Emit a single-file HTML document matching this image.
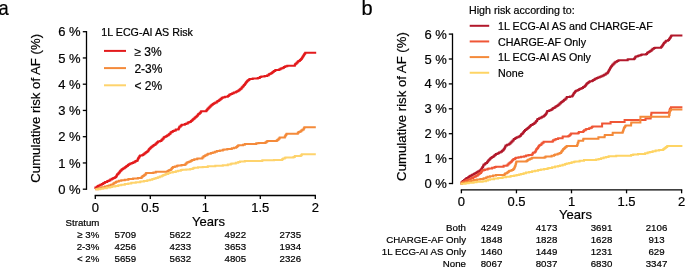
<!DOCTYPE html>
<html><head><meta charset="utf-8"><style>
html,body{margin:0;padding:0;background:#fff;overflow:hidden;}
svg{display:block;will-change:transform;}
text{font-family:"Liberation Sans", sans-serif;fill:#000;stroke:#000;stroke-width:0.2px;}
.pl{font-size:20px;fill:#000;}
.tk{font-size:13px;}
.yt{font-size:13.2px;}
.yr{font-size:13px;}
.lg{font-size:10.7px;}
.tb{font-size:9.7px;}
.lg2{font-size:12px;}
</style></head><body>
<svg width="685" height="268" viewBox="0 0 685 268">
<rect width="685" height="268" fill="#fff"/>
<text transform="translate(-1.5,14.5) scale(0.92,1)" class="pl">a</text>
<text x="361.4" y="14.7" class="pl">b</text>
<line x1="86.5" y1="31.05" x2="86.5" y2="189.85" stroke="#000" stroke-width="1.3"/>
<line x1="82.80" y1="189.20" x2="86.5" y2="189.20" stroke="#000" stroke-width="1.3"/>
<text x="80.6" y="193.75" text-anchor="end" class="tk">0 %</text>
<line x1="82.80" y1="162.95" x2="86.5" y2="162.95" stroke="#000" stroke-width="1.3"/>
<text x="80.6" y="167.50" text-anchor="end" class="tk">1 %</text>
<line x1="82.80" y1="136.70" x2="86.5" y2="136.70" stroke="#000" stroke-width="1.3"/>
<text x="80.6" y="141.25" text-anchor="end" class="tk">2 %</text>
<line x1="82.80" y1="110.45" x2="86.5" y2="110.45" stroke="#000" stroke-width="1.3"/>
<text x="80.6" y="115.00" text-anchor="end" class="tk">3 %</text>
<line x1="82.80" y1="84.20" x2="86.5" y2="84.20" stroke="#000" stroke-width="1.3"/>
<text x="80.6" y="88.75" text-anchor="end" class="tk">4 %</text>
<line x1="82.80" y1="57.95" x2="86.5" y2="57.95" stroke="#000" stroke-width="1.3"/>
<text x="80.6" y="62.50" text-anchor="end" class="tk">5 %</text>
<line x1="82.80" y1="31.70" x2="86.5" y2="31.70" stroke="#000" stroke-width="1.3"/>
<text x="80.6" y="36.25" text-anchor="end" class="tk">6 %</text>
<line x1="94.65" y1="195.5" x2="315.95" y2="195.5" stroke="#000" stroke-width="1.3"/>
<line x1="95.30" y1="195.5" x2="95.30" y2="199.00" stroke="#000" stroke-width="1.3"/>
<text x="95.30" y="211.8" text-anchor="middle" class="tk">0</text>
<line x1="150.30" y1="195.5" x2="150.30" y2="199.00" stroke="#000" stroke-width="1.3"/>
<text x="150.30" y="211.8" text-anchor="middle" class="tk">0.5</text>
<line x1="205.30" y1="195.5" x2="205.30" y2="199.00" stroke="#000" stroke-width="1.3"/>
<text x="205.30" y="211.8" text-anchor="middle" class="tk">1</text>
<line x1="260.30" y1="195.5" x2="260.30" y2="199.00" stroke="#000" stroke-width="1.3"/>
<text x="260.30" y="211.8" text-anchor="middle" class="tk">1.5</text>
<line x1="315.30" y1="195.5" x2="315.30" y2="199.00" stroke="#000" stroke-width="1.3"/>
<text x="315.30" y="211.8" text-anchor="middle" class="tk">2</text>
<text transform="translate(39.6,108.35) rotate(-90)" text-anchor="middle" class="yt">Cumulative risk of AF (%)</text>
<text x="208.5" y="226" text-anchor="middle" class="yr">Years</text>
<text x="101.3" y="35.7" class="lg">1L ECG-AI AS Risk</text>
<line x1="104" y1="50.90" x2="126" y2="50.90" stroke="#e31a1c" stroke-width="2"/>
<text x="134.4" y="55.50" class="lg2">≥ 3%</text>
<line x1="104" y1="68.10" x2="126" y2="68.10" stroke="#f48a3a" stroke-width="2"/>
<text x="134.4" y="72.70" class="lg2">2-3%</text>
<line x1="104" y1="85.30" x2="126" y2="85.30" stroke="#fed36c" stroke-width="2"/>
<text x="134.4" y="89.90" class="lg2">&lt; 2%</text>
<text x="65.5" y="226.4" class="tb">Stratum</text>
<text x="99.3" y="237.8" text-anchor="end" class="tb">≥ 3%</text>
<text x="125.3" y="237.8" text-anchor="middle" class="tb">5709</text>
<text x="180.3" y="237.8" text-anchor="middle" class="tb">5622</text>
<text x="235.3" y="237.8" text-anchor="middle" class="tb">4922</text>
<text x="290.3" y="237.8" text-anchor="middle" class="tb">2735</text>
<text x="99.3" y="249.7" text-anchor="end" class="tb">2-3%</text>
<text x="125.3" y="249.7" text-anchor="middle" class="tb">4256</text>
<text x="180.3" y="249.7" text-anchor="middle" class="tb">4233</text>
<text x="235.3" y="249.7" text-anchor="middle" class="tb">3653</text>
<text x="290.3" y="249.7" text-anchor="middle" class="tb">1934</text>
<text x="99.3" y="261.6" text-anchor="end" class="tb">&lt; 2%</text>
<text x="125.3" y="261.6" text-anchor="middle" class="tb">5659</text>
<text x="180.3" y="261.6" text-anchor="middle" class="tb">5632</text>
<text x="235.3" y="261.6" text-anchor="middle" class="tb">4805</text>
<text x="290.3" y="261.6" text-anchor="middle" class="tb">2326</text>
<polyline points="95.3,189.0 95.4,189.0 95.4,187.5 96.8,187.5 96.8,186.7 97.8,186.7 97.8,186.0 98.7,186.0 98.7,185.5 100.3,185.5 100.3,184.7 101.8,184.7 101.8,184.0 103.3,184.0 103.3,183.1 104.8,183.1 104.8,182.2 105.4,182.2 105.4,181.9 107.3,181.9 107.3,181.1 108.8,181.1 108.8,180.5 110.3,180.5 110.3,179.6 111.8,179.6 111.8,178.8 113.3,178.8 113.3,178.1 114.4,178.1 114.4,177.7 115.3,177.7 115.3,177.0 116.1,177.0 116.1,176.3 116.8,176.3 116.8,175.0 117.2,175.0 117.2,174.3 118.3,174.3 118.3,173.2 118.9,173.2 118.9,172.6 119.8,172.6 119.8,171.4 120.3,171.4 120.3,170.7 121.3,170.7 121.3,169.8 122.3,169.8 122.3,169.1 123.0,169.1 123.0,168.6 124.3,168.6 124.3,167.7 125.3,167.7 125.3,167.1 126.0,167.1 126.0,166.6 126.8,166.6 126.8,165.9 127.8,165.9 127.8,165.1 128.8,165.1 128.8,164.3 130.3,164.3 130.3,163.6 131.8,163.6 131.8,162.9 133.3,162.9 133.3,162.3 134.8,162.3 134.8,161.6 135.8,161.6 135.8,161.0 136.8,161.0 136.8,160.4 137.8,160.4 137.8,159.0 138.3,159.0 138.3,158.1 138.7,158.1 138.7,157.4 139.3,157.4 139.3,156.6 139.8,156.6 139.8,156.0 140.1,156.0 140.1,155.6 142.3,155.6 142.3,154.9 143.3,154.9 143.3,154.2 144.3,154.2 144.3,153.4 145.3,153.4 145.3,152.7 146.3,152.7 146.3,152.0 147.3,152.0 147.3,151.3 148.3,151.3 148.3,150.2 148.8,150.2 148.8,149.5 149.3,149.5 149.3,148.9 149.8,148.9 149.8,148.2 150.8,148.2 150.8,147.3 151.8,147.3 151.8,146.5 152.8,146.5 152.8,145.8 153.8,145.8 153.8,145.1 154.8,145.1 154.8,144.5 155.8,144.5 155.8,143.6 156.8,143.6 156.8,142.7 157.3,142.7 157.3,142.2 158.0,142.2 158.0,141.6 159.8,141.6 159.8,140.9 161.0,140.9 161.0,140.5 161.8,140.5 161.8,139.6 162.8,139.6 162.8,138.5 163.8,138.5 163.8,137.3 164.8,137.3 164.8,136.7 166.3,136.7 166.3,135.9 167.0,135.9 167.0,135.6 168.3,135.6 168.3,134.7 169.2,134.7 169.2,134.1 169.8,134.1 169.8,133.4 170.7,133.4 170.7,132.3 171.8,132.3 171.8,131.7 172.9,131.7 172.9,131.1 174.3,131.1 174.3,130.4 175.8,130.4 175.8,129.6 178.1,129.6 178.1,129.2 178.8,129.2 178.8,128.0 179.3,128.0 179.3,127.1 179.6,127.1 179.6,126.6 180.8,126.6 180.8,125.6 181.8,125.6 181.8,124.8 184.8,124.8 184.8,124.1 186.3,124.1 186.3,123.4 187.8,123.4 187.8,122.6 189.3,122.6 189.3,121.9 190.8,121.9 190.8,121.1 191.8,121.1 191.8,120.2 192.8,120.2 192.8,119.3 193.8,119.3 193.8,118.4 194.8,118.4 194.8,117.6 195.8,117.6 195.8,116.8 196.8,116.8 196.8,115.8 197.8,115.8 197.8,114.7 198.2,114.7 198.2,114.3 198.8,114.3 198.8,113.7 199.8,113.7 199.8,112.7 200.8,112.7 200.8,111.7 201.2,111.7 201.2,111.3 206.3,111.3 206.3,110.6 206.8,110.6 206.8,110.0 207.3,110.0 207.3,109.3 207.8,109.3 207.8,108.5 208.8,108.5 208.8,107.5 209.8,107.5 209.8,106.5 210.8,106.5 210.8,105.5 211.8,105.5 211.8,104.7 212.8,104.7 212.8,103.9 213.8,103.9 213.8,103.2 215.3,103.2 215.3,102.4 216.8,102.4 216.8,101.6 217.8,101.6 217.8,100.9 218.8,100.9 218.8,100.2 219.8,100.2 219.8,99.5 220.8,99.5 220.8,98.7 221.8,98.7 221.8,97.8 223.3,97.8 223.3,97.2 225.1,97.2 225.1,96.7 227.8,96.7 227.8,96.0 228.8,96.0 228.8,95.2 229.6,95.2 229.6,94.6 230.8,94.6 230.8,94.0 232.3,94.0 232.3,93.2 233.8,93.2 233.8,92.4 235.8,92.4 235.8,91.7 237.0,91.7 237.0,91.3 238.3,91.3 238.3,90.4 239.3,90.4 239.3,89.8 240.0,89.8 240.0,89.3 240.8,89.3 240.8,88.4 241.8,88.4 241.8,87.3 242.8,87.3 242.8,86.2 243.8,86.2 243.8,85.1 244.8,85.1 244.8,83.9 245.2,83.9 245.2,83.4 245.8,83.4 245.8,82.7 246.3,82.7 246.3,82.0 246.8,82.0 246.8,81.4 247.3,81.4 247.3,80.8 248.3,80.8 248.3,80.0 249.3,80.0 249.3,79.2 249.7,79.2 249.7,78.9 252.7,78.9 252.7,78.6 257.8,78.6 257.8,77.9 259.8,77.9 259.8,77.1 261.3,77.1 261.3,76.4 264.6,76.4 264.6,75.9 267.3,75.9 267.3,75.2 268.8,75.2 268.8,74.3 269.8,74.3 269.8,73.7 271.3,73.7 271.3,73.0 272.1,73.0 272.1,72.6 272.8,72.6 272.8,71.9 273.7,71.9 273.7,70.9 275.3,70.9 275.3,70.1 278.9,70.1 278.9,69.5 280.3,69.5 280.3,68.8 281.4,68.8 281.4,68.3 282.8,68.3 282.8,67.7 284.0,67.7 284.0,67.1 285.3,67.1 285.3,66.3 287.3,66.3 287.3,65.7 294.8,65.7 294.8,64.8 295.3,64.8 295.3,64.1 295.8,64.1 295.8,63.5 296.8,63.5 296.8,62.5 297.8,62.5 297.8,61.6 298.6,61.6 298.6,60.9 299.8,60.9 299.8,60.0 300.8,60.0 300.8,59.2 301.2,59.2 301.2,58.9 301.8,58.9 301.8,58.0 302.3,58.0 302.3,57.2 302.8,57.2 302.8,56.5 303.3,56.5 303.3,55.7 303.8,55.7 303.8,54.9 304.3,54.9 304.3,54.1 304.8,54.1 304.8,53.5 305.3,53.5 305.3,52.8 316.2,52.8" fill="none" stroke="#e31a1c" stroke-width="2.0" stroke-linejoin="miter" stroke-linecap="butt"/>
<polyline points="95.3,189.2 97.8,189.2 97.8,188.5 100.3,188.5 100.3,187.7 102.1,187.7 102.1,187.2 104.8,187.2 104.8,186.5 107.3,186.5 107.3,185.9 108.8,185.9 108.8,185.5 110.8,185.5 110.8,184.8 112.1,184.8 112.1,184.4 113.3,184.4 113.3,183.5 114.3,183.5 114.3,182.8 115.8,182.8 115.8,182.0 116.6,182.0 116.6,181.6 118.8,181.6 118.8,180.8 121.3,180.8 121.3,180.2 124.8,180.2 124.8,179.7 128.4,179.7 128.4,179.1 133.1,179.1 133.1,178.5 137.9,178.5 137.9,178.1 140.9,178.1 140.9,177.7 141.8,177.7 141.8,176.8 142.7,176.8 142.7,175.9 143.8,175.9 143.8,175.2 144.8,175.2 144.8,174.5 145.8,174.5 145.8,173.6 146.3,173.6 146.3,173.1 153.4,173.1 153.4,172.5 155.8,172.5 155.8,171.8 167.3,171.8 167.3,171.2 168.1,171.2 168.1,170.8 169.3,170.8 169.3,170.1 170.8,170.1 170.8,169.2 171.8,169.2 171.8,168.1 172.8,168.1 172.8,167.1 174.8,167.1 174.8,166.4 176.8,166.4 176.8,165.8 178.1,165.8 178.1,165.4 181.5,165.4 181.5,164.9 184.8,164.9 184.8,164.5 185.8,164.5 185.8,163.5 186.8,163.5 186.8,162.5 188.3,162.5 188.3,161.9 189.5,161.9 189.5,161.4 190.8,161.4 190.8,160.7 192.2,160.7 192.2,160.0 194.3,160.0 194.3,159.3 197.3,159.3 197.3,158.6 202.3,158.6 202.3,157.6 203.3,157.6 203.3,156.6 204.3,156.6 204.3,155.9 205.3,155.9 205.3,155.2 206.8,155.2 206.8,154.4 208.1,154.4 208.1,153.8 210.8,153.8 210.8,153.1 212.8,153.1 212.8,152.4 214.8,152.4 214.8,151.7 216.8,151.7 216.8,151.1 219.8,151.1 219.8,150.5 222.8,150.5 222.8,149.8 224.2,149.8 224.2,149.5 227.3,149.5 227.3,148.9 231.8,148.9 231.8,148.2 234.0,148.2 234.0,147.8 236.2,147.8 236.2,147.1 237.3,147.1 237.3,146.1 238.3,146.1 238.3,145.3 243.0,145.3 243.0,144.7 244.8,144.7 244.8,143.9 256.3,143.9 256.3,143.3 258.6,143.3 258.6,142.9 265.3,142.9 265.3,142.6 266.3,142.6 266.3,141.8 267.3,141.8 267.3,140.9 276.8,140.9 276.8,140.3 277.8,140.3 277.8,139.4 278.8,139.4 278.8,138.4 279.7,138.4 279.7,137.5 284.8,137.5 284.8,136.4 285.3,136.4 285.3,135.7 285.7,135.7 285.7,135.1 286.3,135.1 286.3,134.2 286.6,134.2 286.6,133.7 297.8,133.7 297.8,132.8 298.6,132.8 298.6,132.0 299.8,132.0 299.8,131.4 301.2,131.4 301.2,130.6 302.3,130.6 302.3,129.8 302.9,129.8 302.9,129.4 303.8,129.4 303.8,128.2 304.3,128.2 304.3,127.6 304.6,127.6 304.6,127.2 315.8,127.2" fill="none" stroke="#f48a3a" stroke-width="2.0" stroke-linejoin="miter" stroke-linecap="butt"/>
<polyline points="95.3,189.3 100.3,189.3 100.3,188.7 103.2,188.7 103.2,188.3 106.8,188.3 106.8,187.6 110.3,187.6 110.3,186.9 112.1,186.9 112.1,186.6 115.3,186.6 115.3,186.0 118.3,186.0 118.3,185.3 121.3,185.3 121.3,184.7 124.8,184.7 124.8,184.1 128.3,184.1 128.3,183.4 131.3,183.4 131.3,182.8 135.8,182.8 135.8,182.2 140.3,182.2 140.3,181.5 143.9,181.5 143.9,180.9 147.3,180.9 147.3,180.2 149.9,180.2 149.9,179.7 152.3,179.7 152.3,179.0 154.3,179.0 154.3,178.4 155.8,178.4 155.8,177.9 157.8,177.9 157.8,177.3 159.8,177.3 159.8,176.5 161.8,176.5 161.8,175.7 163.3,175.7 163.3,175.1 164.8,175.1 164.8,174.4 166.1,174.4 166.1,173.9 168.3,173.9 168.3,173.1 170.1,173.1 170.1,172.5 172.8,172.5 172.8,171.9 175.8,171.9 175.8,171.3 178.1,171.3 178.1,170.8 180.8,170.8 180.8,170.1 182.2,170.1 182.2,169.8 186.2,169.8 186.2,169.4 190.2,169.4 190.2,168.9 192.8,168.9 192.8,168.2 194.2,168.2 194.2,167.8 198.0,167.8 198.0,167.3 202.7,167.3 202.7,166.9 207.8,166.9 207.8,166.3 215.3,166.3 215.3,165.7 222.8,165.7 222.8,165.2 227.8,165.2 227.8,164.6 230.8,164.6 230.8,163.8 232.2,163.8 232.2,163.5 235.8,163.5 235.8,162.8 238.3,162.8 238.3,162.1 240.0,162.1 240.0,161.6 244.8,161.6 244.8,160.9 262.3,160.9 262.3,160.3 274.0,160.3 274.0,159.9 282.3,159.9 282.3,159.0 283.2,159.0 283.2,158.6 284.8,158.6 284.8,157.8 285.7,157.8 285.7,157.4 293.5,157.4 293.5,156.9 294.8,156.9 294.8,156.0 300.8,156.0 300.8,155.2 301.8,155.2 301.8,154.2 315.8,154.2" fill="none" stroke="#fed36c" stroke-width="2.0" stroke-linejoin="miter" stroke-linecap="butt"/>
<line x1="452.5" y1="33.45" x2="452.5" y2="184.15" stroke="#000" stroke-width="1.3"/>
<line x1="448.80" y1="183.50" x2="452.5" y2="183.50" stroke="#000" stroke-width="1.3"/>
<text x="446.8" y="188.05" text-anchor="end" class="tk">0 %</text>
<line x1="448.80" y1="158.60" x2="452.5" y2="158.60" stroke="#000" stroke-width="1.3"/>
<text x="446.8" y="163.15" text-anchor="end" class="tk">1 %</text>
<line x1="448.80" y1="133.70" x2="452.5" y2="133.70" stroke="#000" stroke-width="1.3"/>
<text x="446.8" y="138.25" text-anchor="end" class="tk">2 %</text>
<line x1="448.80" y1="108.80" x2="452.5" y2="108.80" stroke="#000" stroke-width="1.3"/>
<text x="446.8" y="113.35" text-anchor="end" class="tk">3 %</text>
<line x1="448.80" y1="83.90" x2="452.5" y2="83.90" stroke="#000" stroke-width="1.3"/>
<text x="446.8" y="88.45" text-anchor="end" class="tk">4 %</text>
<line x1="448.80" y1="59.00" x2="452.5" y2="59.00" stroke="#000" stroke-width="1.3"/>
<text x="446.8" y="63.55" text-anchor="end" class="tk">5 %</text>
<line x1="448.80" y1="34.10" x2="452.5" y2="34.10" stroke="#000" stroke-width="1.3"/>
<text x="446.8" y="38.65" text-anchor="end" class="tk">6 %</text>
<line x1="460.75" y1="189.8" x2="682.25" y2="189.8" stroke="#000" stroke-width="1.3"/>
<line x1="461.40" y1="189.8" x2="461.40" y2="193.30" stroke="#000" stroke-width="1.3"/>
<text x="461.40" y="205.7" text-anchor="middle" class="tk">0</text>
<line x1="516.45" y1="189.8" x2="516.45" y2="193.30" stroke="#000" stroke-width="1.3"/>
<text x="516.45" y="205.7" text-anchor="middle" class="tk">0.5</text>
<line x1="571.50" y1="189.8" x2="571.50" y2="193.30" stroke="#000" stroke-width="1.3"/>
<text x="571.50" y="205.7" text-anchor="middle" class="tk">1</text>
<line x1="626.55" y1="189.8" x2="626.55" y2="193.30" stroke="#000" stroke-width="1.3"/>
<text x="626.55" y="205.7" text-anchor="middle" class="tk">1.5</text>
<line x1="681.60" y1="189.8" x2="681.60" y2="193.30" stroke="#000" stroke-width="1.3"/>
<text x="681.60" y="205.7" text-anchor="middle" class="tk">2</text>
<text transform="translate(405.7,106.5) rotate(-90)" text-anchor="middle" class="yt">Cumulative risk of AF (%)</text>
<text x="575.5" y="219.4" text-anchor="middle" class="yr">Years</text>
<text x="469.0" y="14.4" class="lg">High risk according to:</text>
<line x1="469.7" y1="25.80" x2="489.2" y2="25.80" stroke="#b2182b" stroke-width="2"/>
<text x="498.1" y="29.90" class="lg">1L ECG-AI AS and CHARGE-AF</text>
<line x1="469.7" y1="41.45" x2="489.2" y2="41.45" stroke="#ef5636" stroke-width="2"/>
<text x="498.1" y="45.55" class="lg">CHARGE-AF Only</text>
<line x1="469.7" y1="57.10" x2="489.2" y2="57.10" stroke="#f48a3a" stroke-width="2"/>
<text x="498.1" y="61.20" class="lg">1L ECG-AI AS Only</text>
<line x1="469.7" y1="72.75" x2="489.2" y2="72.75" stroke="#fed464" stroke-width="2"/>
<text x="498.1" y="76.85" class="lg">None</text>
<text x="466" y="231.4" text-anchor="end" class="tb">Both</text>
<text x="491.5" y="231.4" text-anchor="middle" class="tb">4249</text>
<text x="546.5" y="231.4" text-anchor="middle" class="tb">4173</text>
<text x="601.5" y="231.4" text-anchor="middle" class="tb">3691</text>
<text x="656.5" y="231.4" text-anchor="middle" class="tb">2106</text>
<text x="466" y="243.2" text-anchor="end" class="tb">CHARGE-AF Only</text>
<text x="491.5" y="243.2" text-anchor="middle" class="tb">1848</text>
<text x="546.5" y="243.2" text-anchor="middle" class="tb">1828</text>
<text x="601.5" y="243.2" text-anchor="middle" class="tb">1628</text>
<text x="656.5" y="243.2" text-anchor="middle" class="tb">913</text>
<text x="466" y="255.1" text-anchor="end" class="tb">1L ECG-AI AS Only</text>
<text x="491.5" y="255.1" text-anchor="middle" class="tb">1460</text>
<text x="546.5" y="255.1" text-anchor="middle" class="tb">1449</text>
<text x="601.5" y="255.1" text-anchor="middle" class="tb">1231</text>
<text x="656.5" y="255.1" text-anchor="middle" class="tb">629</text>
<text x="466" y="266.9" text-anchor="end" class="tb">None</text>
<text x="491.5" y="266.9" text-anchor="middle" class="tb">8067</text>
<text x="546.5" y="266.9" text-anchor="middle" class="tb">8037</text>
<text x="601.5" y="266.9" text-anchor="middle" class="tb">6830</text>
<text x="656.5" y="266.9" text-anchor="middle" class="tb">3347</text>
<polyline points="460.6,183.4 461.6,183.4 461.6,182.3 462.6,182.3 462.6,181.2 462.9,181.2 462.9,180.9 464.1,180.9 464.1,180.0 465.1,180.0 465.1,179.3 466.1,179.3 466.1,178.5 466.8,178.5 466.8,178.0 468.1,178.0 468.1,177.2 469.1,177.2 469.1,176.5 470.1,176.5 470.1,175.9 470.7,175.9 470.7,175.5 472.1,175.5 472.1,174.8 473.6,174.8 473.6,174.0 474.5,174.0 474.5,173.6 475.6,173.6 475.6,172.9 476.6,172.9 476.6,172.3 477.6,172.3 477.6,171.7 478.4,171.7 478.4,171.2 479.6,171.2 479.6,170.4 480.6,170.4 480.6,169.8 481.1,169.8 481.1,169.2 481.6,169.2 481.6,168.4 482.1,168.4 482.1,167.6 482.3,167.6 482.3,167.3 483.1,167.3 483.1,165.8 483.6,165.8 483.6,164.8 483.8,164.8 483.8,164.4 485.1,164.4 485.1,163.5 486.1,163.5 486.1,162.9 487.1,162.9 487.1,161.8 488.1,161.8 488.1,160.6 489.1,160.6 489.1,159.6 490.1,159.6 490.1,158.6 490.9,158.6 490.9,157.8 492.1,157.8 492.1,157.1 493.0,157.1 493.0,156.6 494.1,156.6 494.1,155.6 495.1,155.6 495.1,154.8 496.0,154.8 496.0,154.0 497.6,154.0 497.6,153.2 499.0,153.2 499.0,152.5 500.6,152.5 500.6,151.7 501.9,151.7 501.9,151.0 502.6,151.0 502.6,150.3 503.6,150.3 503.6,149.3 504.2,149.3 504.2,148.7 504.6,148.7 504.6,147.8 505.1,147.8 505.1,146.7 505.6,146.7 505.6,145.6 507.1,145.6 507.1,144.8 508.7,144.8 508.7,144.2 509.6,144.2 509.6,143.4 510.6,143.4 510.6,142.5 511.6,142.5 511.6,141.6 512.6,141.6 512.6,140.5 513.6,140.5 513.6,139.4 513.9,139.4 513.9,139.1 515.1,139.1 515.1,138.3 516.1,138.3 516.1,137.7 516.9,137.7 516.9,137.2 518.6,137.2 518.6,136.6 519.9,136.6 519.9,136.1 520.6,136.1 520.6,135.2 521.1,135.2 521.1,134.6 521.6,134.6 521.6,134.0 522.1,134.0 522.1,133.4 523.1,133.4 523.1,132.3 524.1,132.3 524.1,131.1 525.0,131.1 525.0,130.1 526.1,130.1 526.1,129.3 527.1,129.3 527.1,128.5 528.0,128.5 528.0,127.8 529.1,127.8 529.1,126.7 530.1,126.7 530.1,125.8 531.0,125.8 531.0,124.9 532.6,124.9 532.6,124.1 533.9,124.1 533.9,123.4 534.6,123.4 534.6,122.7 535.6,122.7 535.6,121.7 536.2,121.7 536.2,121.1 537.1,121.1 537.1,119.8 537.6,119.8 537.6,119.0 539.1,119.0 539.1,118.2 540.6,118.2 540.6,117.5 542.1,117.5 542.1,116.7 543.6,116.7 543.6,115.9 544.6,115.9 544.6,114.9 545.6,114.9 545.6,114.0 546.1,114.0 546.1,113.4 546.6,113.4 546.6,112.5 547.1,112.5 547.1,111.6 547.4,111.6 547.4,111.1 549.1,111.1 549.1,110.4 550.4,110.4 550.4,109.9 551.6,109.9 551.6,109.2 552.6,109.2 552.6,108.5 553.3,108.5 553.3,108.1 554.6,108.1 554.6,107.2 555.6,107.2 555.6,106.6 556.6,106.6 556.6,105.9 557.6,105.9 557.6,105.3 558.6,105.3 558.6,104.5 559.6,104.5 559.6,103.6 560.6,103.6 560.6,102.7 561.0,102.7 561.0,102.3 562.1,102.3 562.1,101.5 563.1,101.5 563.1,100.8 564.0,100.8 564.0,100.1 564.6,100.1 564.6,99.5 565.6,99.5 565.6,98.4 566.6,98.4 566.6,97.4 566.9,97.4 566.9,97.1 569.9,97.1 569.9,96.6 572.2,96.6 572.2,96.0 572.6,96.0 572.6,95.3 573.1,95.3 573.1,94.4 573.6,94.4 573.6,93.6 574.1,93.6 574.1,92.9 574.6,92.9 574.6,92.3 575.1,92.3 575.1,91.7 575.6,91.7 575.6,91.1 575.9,91.1 575.9,90.7 577.6,90.7 577.6,89.9 578.9,89.9 578.9,89.3 580.1,89.3 580.1,88.7 581.6,88.7 581.6,87.9 583.1,87.9 583.1,87.0 584.6,87.0 584.6,86.1 585.6,86.1 585.6,85.0 586.1,85.0 586.1,84.4 586.6,84.4 586.6,83.8 587.1,83.8 587.1,83.2 588.1,83.2 588.1,82.5 589.1,82.5 589.1,81.8 590.0,81.8 590.0,81.2 592.1,81.2 592.1,80.8 593.1,80.8 593.1,80.1 594.1,80.1 594.1,79.5 595.1,79.5 595.1,78.8 596.6,78.8 596.6,78.1 597.9,78.1 597.9,77.5 599.6,77.5 599.6,76.8 601.2,76.8 601.2,76.2 602.6,76.2 602.6,75.5 604.1,75.5 604.1,74.7 605.6,74.7 605.6,73.8 606.6,73.8 606.6,73.2 607.6,73.2 607.6,72.6 608.1,72.6 608.1,71.8 608.6,71.8 608.6,70.8 609.1,70.8 609.1,69.9 609.6,69.9 609.6,69.0 610.1,69.0 610.1,68.1 610.6,68.1 610.6,67.3 611.1,67.3 611.1,66.6 611.6,66.6 611.6,65.9 612.1,65.9 612.1,65.2 612.6,65.2 612.6,64.4 613.6,64.4 613.6,63.5 614.6,63.5 614.6,62.6 615.6,62.6 615.6,61.7 617.1,61.7 617.1,60.9 618.4,60.9 618.4,60.3 627.6,60.3 627.6,59.6 628.2,59.6 628.2,59.3 634.1,59.3 634.1,58.5 635.1,58.5 635.1,57.3 635.7,57.3 635.7,56.6 637.6,56.6 637.6,55.9 638.6,55.9 638.6,55.6 640.6,55.6 640.6,54.9 641.6,54.9 641.6,54.6 646.1,54.6 646.1,54.0 647.1,54.0 647.1,53.1 647.6,53.1 647.6,52.6 648.6,52.6 648.6,52.0 649.6,52.0 649.6,51.3 650.6,51.3 650.6,50.7 651.6,50.7 651.6,49.7 652.6,49.7 652.6,48.8 654.1,48.8 654.1,48.1 655.1,48.1 655.1,47.7 661.1,47.7 661.1,46.8 662.1,46.8 662.1,45.7 662.5,45.7 662.5,45.2 663.1,45.2 663.1,44.3 663.6,44.3 663.6,43.5 664.0,43.5 664.0,42.9 664.6,42.9 664.6,42.3 665.6,42.3 665.6,41.3 666.2,41.3 666.2,40.7 668.1,40.7 668.1,40.0 669.1,40.0 669.1,39.0 669.6,39.0 669.6,38.3 670.0,38.3 670.0,37.7 670.6,37.7 670.6,36.8 671.1,36.8 671.1,36.1 671.5,36.1 671.5,35.5 682.4,35.5" fill="none" stroke="#b2182b" stroke-width="2.0" stroke-linejoin="miter" stroke-linecap="butt"/>
<polyline points="460.6,183.5 461.6,183.5 461.6,182.8 462.6,182.8 462.6,182.0 464.1,182.0 464.1,181.2 465.6,181.2 465.6,180.5 466.8,180.5 466.8,179.9 468.6,179.9 468.6,179.2 470.6,179.2 470.6,178.4 471.6,178.4 471.6,178.0 473.1,178.0 473.1,177.2 474.6,177.2 474.6,176.5 476.1,176.5 476.1,175.7 477.6,175.7 477.6,174.8 478.6,174.8 478.6,174.1 479.4,174.1 479.4,173.6 480.1,173.6 480.1,172.9 481.1,172.9 481.1,171.9 481.6,171.9 481.6,171.2 482.1,171.2 482.1,170.5 483.6,170.5 483.6,169.9 485.0,169.9 485.0,169.5 487.6,169.5 487.6,168.8 488.9,168.8 488.9,168.5 492.1,168.5 492.1,167.8 494.6,167.8 494.6,167.1 496.0,167.1 496.0,166.7 503.6,166.7 503.6,165.8 506.5,165.8 506.5,165.5 507.6,165.5 507.6,164.5 508.6,164.5 508.6,163.6 509.6,163.6 509.6,162.8 510.6,162.8 510.6,162.0 511.6,162.0 511.6,160.9 512.2,160.9 512.2,160.3 513.1,160.3 513.1,159.5 513.8,159.5 513.8,158.9 515.1,158.9 515.1,158.2 515.9,158.2 515.9,157.8 518.5,157.8 518.5,157.3 521.1,157.3 521.1,156.8 524.2,156.8 524.2,156.3 526.1,156.3 526.1,155.6 528.5,155.6 528.5,155.0 531.8,155.0 531.8,154.5 532.6,154.5 532.6,153.4 533.0,153.4 533.0,152.8 534.6,152.8 534.6,152.0 535.2,152.0 535.2,151.7 535.6,151.7 535.6,150.8 536.1,150.8 536.1,149.7 536.3,149.7 536.3,149.2 537.1,149.2 537.1,148.3 538.0,148.3 538.0,147.2 538.6,147.2 538.6,146.3 539.1,146.3 539.1,145.5 540.1,145.5 540.1,144.9 540.8,144.9 540.8,144.4 541.6,144.4 541.6,143.6 542.5,143.6 542.5,142.7 543.6,142.7 543.6,141.8 552.0,141.8 552.0,141.4 553.1,141.4 553.1,140.3 554.6,140.3 554.6,139.6 556.1,139.6 556.1,139.0 558.1,139.0 558.1,138.3 562.6,138.3 562.6,137.0 562.8,137.0 562.8,136.5 568.4,136.5 568.4,136.1 569.1,136.1 569.1,135.5 570.1,135.5 570.1,134.6 571.1,134.6 571.1,133.6 577.9,133.6 577.9,133.2 578.6,133.2 578.6,132.5 579.0,132.5 579.0,132.1 583.1,132.1 583.1,131.3 584.1,131.3 584.1,130.2 585.6,130.2 585.6,129.4 586.3,129.4 586.3,129.0 589.1,129.0 589.1,128.3 590.6,128.3 590.6,127.7 591.9,127.7 591.9,127.1 592.5,127.1 592.5,126.4 602.1,126.4 602.1,124.0 602.2,124.0 602.2,123.5 610.6,123.5 610.6,121.9 624.6,121.9 624.6,120.1 645.5,120.1 645.5,118.4 650.6,118.4 650.6,117.3 651.1,117.3 651.1,114.5 651.4,114.5 651.4,112.8 669.1,112.8 669.1,111.8 669.6,111.8 669.6,110.0 669.9,110.0 669.9,109.0 670.6,109.0 670.6,107.9 671.0,107.9 671.0,107.2 682.4,107.2" fill="none" stroke="#ef5636" stroke-width="2.0" stroke-linejoin="miter" stroke-linecap="butt"/>
<polyline points="460.6,183.6 462.1,183.6 462.1,182.9 462.9,182.9 462.9,182.5 466.1,182.5 466.1,181.9 468.7,181.9 468.7,181.4 471.1,181.4 471.1,180.8 473.6,180.8 473.6,180.1 477.1,180.1 477.1,179.5 480.4,179.5 480.4,178.9 483.6,178.9 483.6,178.3 486.1,178.3 486.1,177.5 487.6,177.5 487.6,176.8 490.0,176.8 490.0,176.2 493.1,176.2 493.1,175.5 496.0,175.5 496.0,174.9 504.6,174.9 504.6,174.0 505.4,174.0 505.4,173.2 507.1,173.2 507.1,172.4 508.1,172.4 508.1,171.8 509.1,171.8 509.1,171.1 509.6,171.1 509.6,170.7 511.6,170.7 511.6,169.9 513.1,169.9 513.1,169.2 513.8,169.2 513.8,168.8 514.1,168.8 514.1,168.2 514.6,168.2 514.6,167.1 514.8,167.1 514.8,166.7 515.1,166.7 515.1,165.8 515.6,165.8 515.6,164.3 515.9,164.3 515.9,163.4 516.1,163.4 516.1,162.6 516.4,162.6 516.4,161.5 526.0,161.5 526.0,161.2 527.1,161.2 527.1,160.4 527.9,160.4 527.9,159.8 529.6,159.8 529.6,159.1 530.7,159.1 530.7,158.6 532.1,158.6 532.1,157.8 544.6,157.8 544.6,157.2 545.6,157.2 545.6,156.4 551.6,156.4 551.6,155.7 554.1,155.7 554.1,155.0 555.1,155.0 555.1,154.4 557.6,154.4 557.6,153.7 559.6,153.7 559.6,152.9 561.0,152.9 561.0,152.2 561.6,152.2 561.6,151.2 562.1,151.2 562.1,150.4 563.1,150.4 563.1,149.2 563.4,149.2 563.4,148.9 564.1,148.9 564.1,148.3 565.1,148.3 565.1,147.4 565.6,147.4 565.6,147.0 566.6,147.0 566.6,145.9 577.1,145.9 577.1,144.9 577.6,144.9 577.6,143.4 577.9,143.4 577.9,142.5 578.5,142.5 578.5,140.8 583.1,140.8 583.1,139.5 583.5,139.5 583.5,138.8 598.4,138.8 598.4,137.2 604.6,137.2 604.6,136.1 604.8,136.1 604.8,135.0 612.6,135.0 612.6,133.5 612.8,133.5 612.8,132.7 622.6,132.7 622.6,131.8 623.0,131.8 623.0,130.5 623.6,130.5 623.6,128.8 624.0,128.8 624.0,127.7 624.6,127.7 624.6,126.9 625.1,126.9 625.1,126.2 625.6,126.2 625.6,125.5 631.1,125.5 631.1,123.5 631.3,123.5 631.3,122.6 640.4,122.6 640.4,116.8 669.1,116.8 669.1,115.1 669.6,115.1 669.6,112.4 669.9,112.4 669.9,110.8 670.6,110.8 670.6,109.9 671.0,109.9 671.0,109.4 682.4,109.4" fill="none" stroke="#f48a3a" stroke-width="2.0" stroke-linejoin="miter" stroke-linecap="butt"/>
<polyline points="460.6,183.8 465.6,183.8 465.6,183.2 468.7,183.2 468.7,182.8 473.6,182.8 473.6,182.2 476.5,182.2 476.5,181.8 482.6,181.8 482.6,181.2 486.1,181.2 486.1,180.5 488.1,180.5 488.1,179.8 490.0,179.8 490.0,179.2 494.1,179.2 494.1,178.5 498.1,178.5 498.1,177.9 502.6,177.9 502.6,177.3 506.1,177.3 506.1,176.8 510.6,176.8 510.6,176.1 514.2,176.1 514.2,175.6 516.6,175.6 516.6,175.0 519.1,175.0 519.1,174.4 520.9,174.4 520.9,173.9 523.6,173.9 523.6,173.2 526.0,173.2 526.0,172.6 529.1,172.6 529.1,171.9 532.1,171.9 532.1,171.3 535.1,171.3 535.1,170.7 538.1,170.7 538.1,170.0 540.8,170.0 540.8,169.5 544.1,169.5 544.1,168.9 547.6,168.9 547.6,168.2 549.2,168.2 549.2,167.9 552.1,167.9 552.1,167.3 555.1,167.3 555.1,166.6 558.1,166.6 558.1,165.9 560.0,165.9 560.0,165.5 562.6,165.5 562.6,164.8 565.1,164.8 565.1,164.1 566.7,164.1 566.7,163.6 569.1,163.6 569.1,163.0 571.6,163.0 571.6,162.3 574.1,162.3 574.1,161.7 575.3,161.7 575.3,161.4 579.6,161.4 579.6,160.8 584.0,160.8 584.0,160.1 596.1,160.1 596.1,159.5 598.6,159.5 598.6,158.9 601.1,158.9 601.1,158.2 603.6,158.2 603.6,157.6 606.1,157.6 606.1,157.0 608.6,157.0 608.6,156.3 616.2,156.3 616.2,155.7 631.1,155.7 631.1,155.0 633.2,155.0 633.2,154.5 638.0,154.5 638.0,153.9 645.1,153.9 645.1,153.2 647.6,153.2 647.6,152.6 649.7,152.6 649.7,152.0 652.6,152.0 652.6,151.3 655.6,151.3 655.6,150.6 659.1,150.6 659.1,150.0 663.1,150.0 663.1,149.3 664.1,149.3 664.1,148.5 665.1,148.5 665.1,147.7 666.1,147.7 666.1,147.0 667.1,147.0 667.1,146.3 667.6,146.3 667.6,146.0 682.4,146.0" fill="none" stroke="#fed464" stroke-width="2.0" stroke-linejoin="miter" stroke-linecap="butt"/>
</svg>
</body></html>
